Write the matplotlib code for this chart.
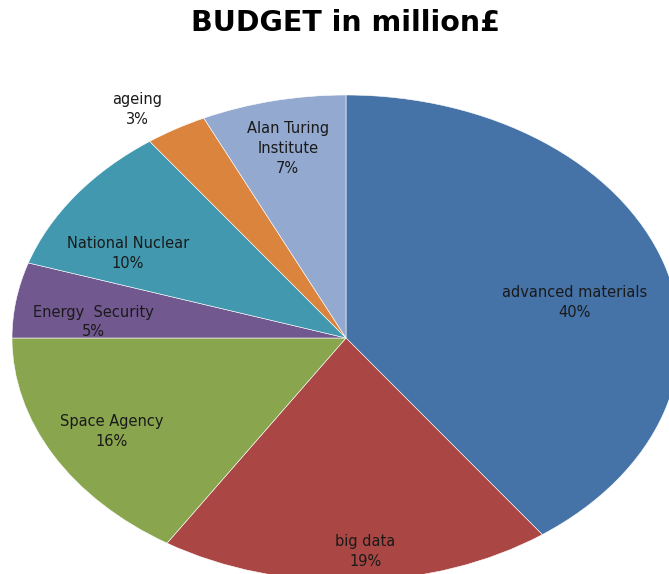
import numpy as np
import matplotlib.pyplot as plt

plt.rcParams['font.family'] = ['DejaVu Sans']

names = ['advanced materials', 'big data', 'Space Agency', 'Energy  Security',
         'National Nuclear', 'ageing', 'Alan Turing\nInstitute']
shares = [40, 19, 16, 5, 10, 3, 7]
colors = ['#4572A7', '#AA4643', '#89A54E', '#71588F', '#4198AF', '#DB843D', '#93A9CF']
# how far out each label sits (fraction of radius), and a small angle nudge
label_dist = [0.70, 0.88, 0.80, 0.76, 0.74, 1.13, 0.80]
label_shift = [-6, 2, 0, 4, 8, 3, 0]

fig = plt.figure(figsize=(6.69, 5.74), dpi=100)
# pie is stretched into an ellipse and runs off the right/bottom edge
ax = fig.add_axes([12 / 669, -7 / 574, 668 / 669, 486 / 574])

wedges, _ = ax.pie(shares, colors=colors, startangle=90, counterclock=False,
                   wedgeprops=dict(edgecolor='white', linewidth=0.4))
ax.set_aspect('auto')
ax.set_xlim(-1, 1)
ax.set_ylim(-1, 1)
ax.axis('off')

for w, name, pct, d, s in zip(wedges, names, shares, label_dist, label_shift):
    mid = np.deg2rad((w.theta1 + w.theta2) / 2 + s)
    ax.text(d * np.cos(mid), d * np.sin(mid), f'{name}\n{pct}%',
            ha='center', va='center', fontsize=10.5, color='#1a1a1a',
            linespacing=1.4, clip_on=False)

fig.text(0.517, 0.960, 'BUDGET in million£', ha='center', va='center',
         fontsize=20.5, fontweight='bold')

fig.savefig('out.png', dpi=100)
